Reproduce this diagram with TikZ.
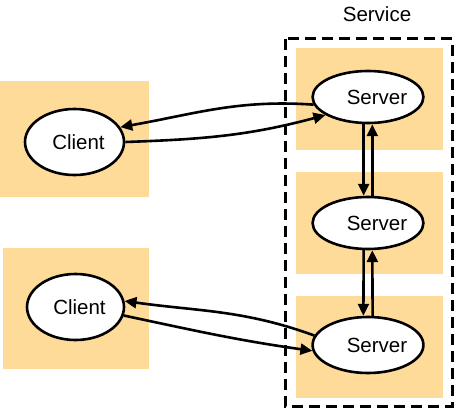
\documentclass[tikz,border=0pt]{standalone}
\usepackage{fontspec}
\setmainfont{Liberation Sans}
\usetikzlibrary{arrows.meta,shapes.geometric}
\definecolor{peach}{HTML}{FFDB9A}
\tikzset{
  panel/.style={fill=peach, draw=none},
  proc/.style={ellipse, draw=black, line width=2.6pt, fill=white, inner sep=0pt,
     font=\fontsize{20.5}{24}\selectfont},
  link/.style={line width=2.6pt, -{Triangle[length=12pt,width=11pt]}},
}
\begin{document}
\begin{tikzpicture}[x=1pt,y=-1pt]
\useasboundingbox (0,0) rectangle (460,417);
% panels
\fill[panel] (0,81) rectangle (149,197);
\fill[panel] (3,248) rectangle (149,369);
\fill[panel] (296,48) rectangle (443,150);
\fill[panel] (296,172) rectangle (443,274);
\fill[panel] (296,296) rectangle (443,398);
% service box
\draw[line width=3pt, dash pattern=on 11pt off 6pt] (285,39) rectangle (452,406);
\node[font=\fontsize{20.5}{24}\selectfont] (svc) at (377,14) {Service};
% nodes
\node[proc, minimum width=99pt, minimum height=66pt] (c1) at (74.5,142) {\hspace{8pt}Client};
\node[proc, minimum width=97pt, minimum height=66pt] (c2) at (75.5,307) {\hspace{8pt}Client};
\node[proc, minimum width=96pt, minimum height=52pt] (s1) at (368,97) {\hspace{18pt}Server};
\node[proc, minimum width=96pt, minimum height=52pt] (s2) at (368,223) {\hspace{18pt}Server};
\node[proc, minimum width=96pt, minimum height=56pt] (s3) at (368,345) {\hspace{18pt}Server};
% client/server links
\draw[link] (s1.188) to[out=176,in=10] (c1.18);
\draw[link] (c1.east) to[out=2,in=195] (s1.203);
\draw[link] (s3.170) to[out=160,in=-8] (c2.7);
\draw[link] (c2.-10) to[out=-12,in=172] (s3.186);
% server/server links
\draw[link] (s1.261) -- (s2.99);
\draw[link] (s2.81) -- (s1.279);
\draw[link] (s2.261) -- (s3.99);
\draw[link] (s3.81) -- (s2.279);
\end{tikzpicture}
\end{document}
